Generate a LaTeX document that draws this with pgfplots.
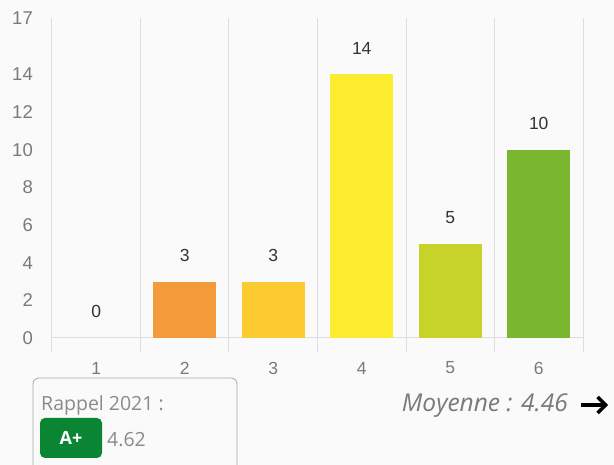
\documentclass[border=0pt]{standalone}
\usepackage{pgfplots}
\pgfplotsset{compat=1.18}
\usepackage{fontspec}
\setmainfont{Liberation Sans}
\newfontfamily\osans{Open Sans}
\usetikzlibrary{arrows.meta}
\definecolor{bg}{HTML}{FAFAFA}
\definecolor{gridc}{HTML}{DEDEDE}
\definecolor{tickc}{HTML}{7A7A7A}
\definecolor{valc}{HTML}{333333}
\definecolor{txtc}{HTML}{8A8A8A}
\definecolor{boxc}{HTML}{A8A8A8}
\definecolor{greenc}{HTML}{0A8534}
\definecolor{c2}{HTML}{F39A3B}
\definecolor{c3}{HTML}{FCCB30}
\definecolor{c4}{HTML}{FEEC2F}
\definecolor{c5}{HTML}{C8D32A}
\definecolor{c6}{HTML}{7AB62F}
\begin{document}
\begin{tikzpicture}[x=1pt,y=1pt]
\useasboundingbox (0,0) rectangle (614,-465);
\fill[bg] (0,0) rectangle (614,-465);
\begin{axis}[
  at={(52pt,-338pt)}, anchor=south west,
  scale only axis, width=531pt, height=320pt,
  xmin=0.5, xmax=6.5, ymin=0, ymax=17,
  axis line style={draw=none},
  /pgf/number format/assume math mode=true,
  ytick={0,2,4,6,8,10,12,14,17},
  xtick={1,2,3,4,5,6},
  xtick pos=bottom, ytick pos=left,
  major tick length=0pt,
  tick style={draw=none},
  extra x ticks={0.5,1.5,2.5,3.5,4.5,5.5,6.5},
  extra x tick labels={},
  extra x tick style={grid=major, major grid style={gridc, line width=1pt},
     tick style={draw=gridc, line width=1pt}, major tick length=14pt, tick align=outside},
  extra y ticks={0}, extra y tick labels={},
  extra y tick style={grid=major, major grid style={gridc, line width=1pt}},
  yticklabel style={font=\fontsize{18.5}{20}\selectfont, text=tickc, anchor=east, inner sep=0pt, xshift=-19pt},
  xticklabel style={font=\fontsize{17.5}{20}\selectfont, text=tickc, anchor=center, inner sep=0pt, yshift=-30pt},
  nodes near coords,
  every node near coord/.append style={font=\fontsize{17.5}{20}\selectfont, text=valc, inner sep=0pt, yshift=20pt},
]
\addplot[ybar, bar width=0.71, bar shift=0pt, fill=none, draw=none] coordinates {(1,0)};
\addplot[ybar, bar width=0.71, bar shift=0pt, fill=c2, draw=none] coordinates {(2,3)};
\addplot[ybar, bar width=0.71, bar shift=0pt, fill=c3, draw=none] coordinates {(3,3)};
\addplot[ybar, bar width=0.71, bar shift=0pt, fill=c4, draw=none] coordinates {(4,14)};
\addplot[ybar, bar width=0.71, bar shift=0pt, fill=c5, draw=none] coordinates {(5,5)};
\addplot[ybar, bar width=0.71, bar shift=0pt, fill=c6, draw=none] coordinates {(6,10)};
\end{axis}
\draw[boxc, line width=0.8pt, rounded corners=6pt] (33,-378) rectangle (237,-472);
\node[anchor=west, inner sep=0pt, font=\osans\fontsize{19.5}{22}\selectfont, text=txtc] at (41,-405) {Rappel 2021 :};
\fill[greenc, rounded corners=5pt] (40,-418) rectangle (102,-458);
\node[inner sep=0pt, font=\osans\bfseries\fontsize{18}{20}\selectfont, text=white] at (71,-438) {A+};
\node[anchor=west, inner sep=0pt, font=\osans\fontsize{19.5}{22}\selectfont, text=txtc] at (107,-440) {4.62};
\node[anchor=east, inner sep=0pt, font=\osans\itshape\fontsize{24.5}{28}\selectfont, text=tickc] at (568,-406) {Moyenne : 4.46};
\draw[line width=3.5pt, -{Straight Barb[length=8pt, width=16pt, line width=3.5pt]}] (581,-405) -- (608,-405);
\end{tikzpicture}
\end{document}
